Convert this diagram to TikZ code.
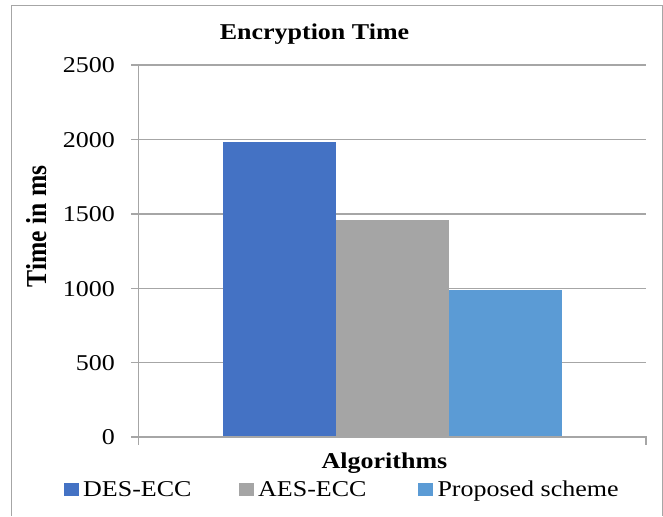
\documentclass[tikz,border=0pt]{standalone}
\usepackage{fontspec}
\setmainfont{Liberation Serif}
\newcommand{\hstretch}[1]{\scalebox{1.15}[1]{#1}}
\definecolor{desblue}{HTML}{4472C4}
\definecolor{aesgray}{HTML}{A5A5A5}
\definecolor{propblue}{HTML}{5B9BD5}
\definecolor{gridgray}{HTML}{A6A6A6}
\begin{document}
\begin{tikzpicture}[x=1pt,y=-1pt,
  txt/.style={inner sep=0pt, font=\fontsize{22.6}{26}\selectfont},
  boldtxt/.style={inner sep=0pt, font=\fontsize{22.6}{26}\selectfont\bfseries},
  gridline/.style={draw=gridgray, line width=1.3pt},
  bar/.style={inner sep=0pt, outer sep=0pt, anchor=south west},
  key/.style={inner sep=0pt, outer sep=0pt, anchor=north west, minimum width=15pt, minimum height=12.5pt}]
\useasboundingbox (0,0) rectangle (663,516);
\fill[white] (0,0) rectangle (663,516);

% chart frame
\draw[gridgray, line width=1pt] (11.5,516) -- (11.5,5.5) -- (662,5.5) -- (662,516);

% title
\node[boldtxt, anchor=base] (title) at (314.5,40) {\hstretch{Encryption Time}};

% horizontal grid lines with their tick labels
\foreach \v/\y in {2500/65, 2000/139.4, 1500/214, 1000/288.4, 500/362.7}{
  \draw[gridline] (131,\y) -- (646,\y);
  \node[txt, anchor=base east] (tick\v) at (115,\y+7.7) {\hstretch{\v}};
}
\node[txt, anchor=base east] (tick0) at (115,444.7) {\hstretch{0}};

% bars
\node[bar, fill=desblue, minimum width=113pt, minimum height=295pt] (des) at (223,437) {};
\node[bar, fill=aesgray, minimum width=113pt, minimum height=217pt] (aes) at (336,437) {};
\node[bar, fill=propblue, minimum width=113pt, minimum height=147pt] (prop) at (449,437) {};

% axes
\coordinate (origin) at (138.3,437);
\coordinate (ytop) at (138.3,65);
\coordinate (xend) at (646,437);
\draw[gridline] (ytop) -- (origin) -- ++(0,7.5);
\draw[gridline] (131,437) -- (xend) -- ++(0,7.5);

% axis titles
\node[boldtxt, font=\fontsize{25.6}{30}\selectfont\bfseries, rotate=90, anchor=base] (ytitle) at (46,226.5) {\scalebox{1}[1.13]{Time in ms}};
\node[boldtxt, anchor=base] (xtitle) at (384.5,468) {\hstretch{Algorithms}};

% legend
\node[key, fill=desblue] (kdes) at (64,483) {};
\node[txt, anchor=base west] (ldes) at (83,496.7) {\hstretch{DES-ECC}};
\node[key, fill=aesgray] (kaes) at (239,483) {};
\node[txt, anchor=base west] (laes) at (258,496.7) {\hstretch{AES-ECC}};
\node[key, fill=propblue] (kprop) at (418,483) {};
\node[txt, anchor=base west] (lprop) at (437.3,496.7) {\hstretch{Proposed scheme}};
\end{tikzpicture}
\end{document}
